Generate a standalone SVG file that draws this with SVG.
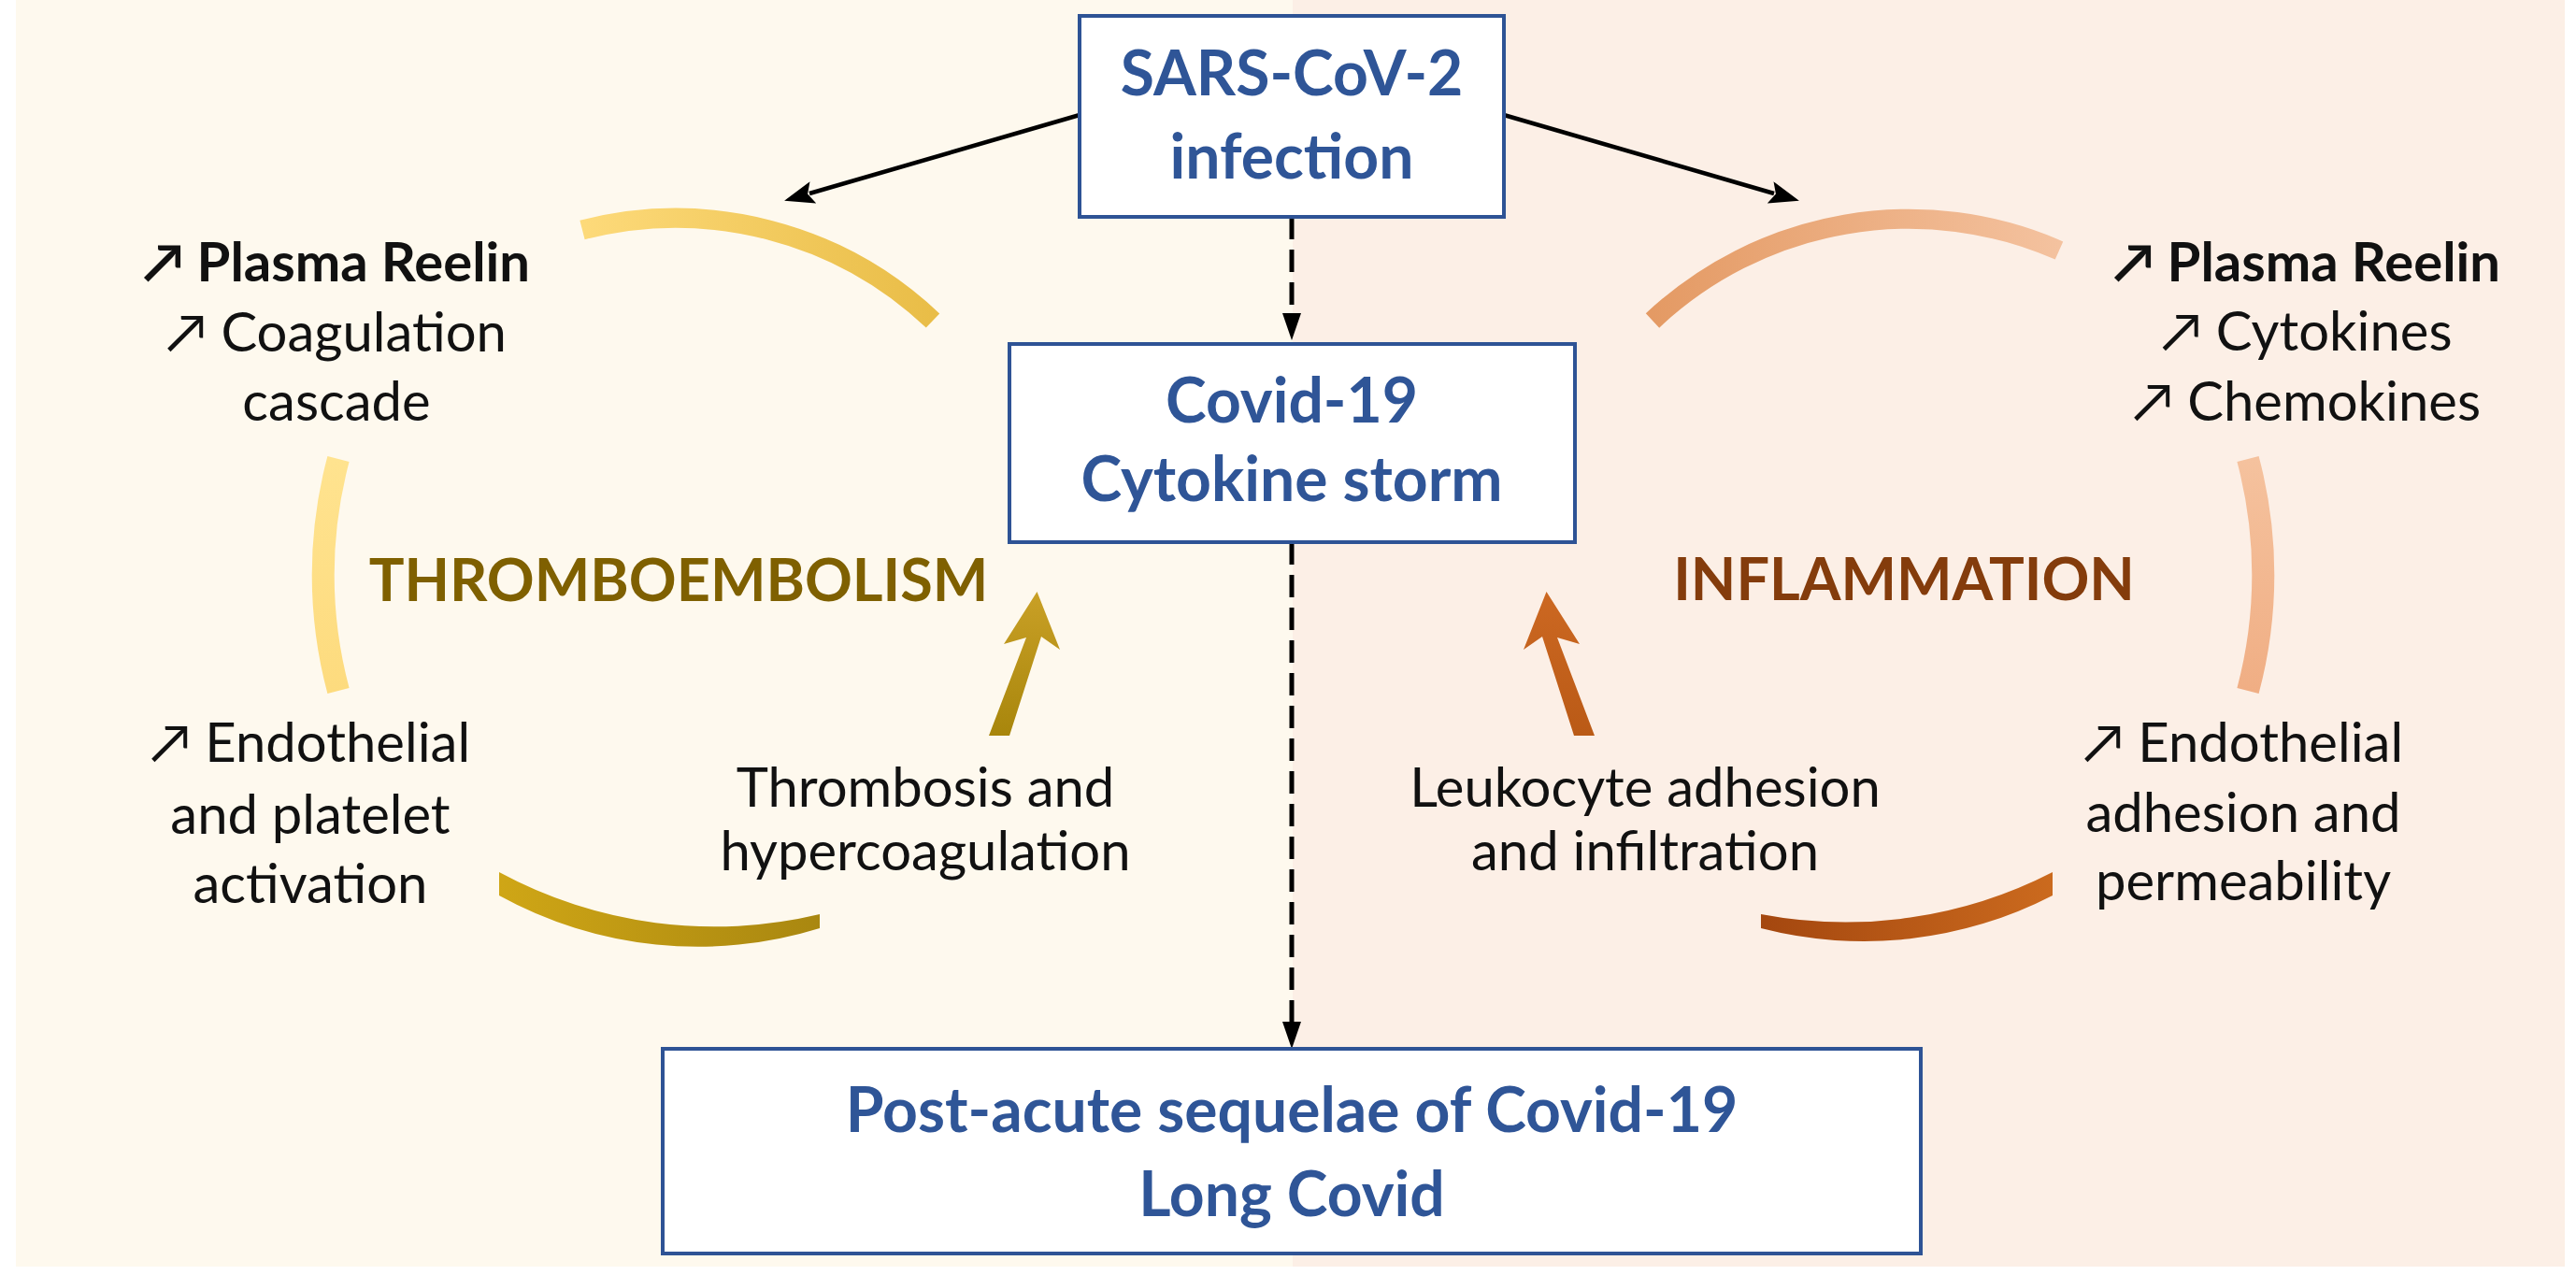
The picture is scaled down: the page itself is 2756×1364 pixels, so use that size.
<svg xmlns="http://www.w3.org/2000/svg" width="2756" height="1364" viewBox="0 0 2756 1364">
<style>
.box{fill:#ffffff;stroke:#2E5395;stroke-width:4}
.bt{font-family:Lato,"Open Sans","DejaVu Sans",sans-serif;font-weight:700;font-size:66px;fill:#2F5597;text-anchor:middle}
.tx{font-family:Lato,"DejaVu Sans",sans-serif;font-size:58px;fill:#111111;text-anchor:middle}
.b{font-weight:700}
.ttl{font-family:Lato,"DejaVu Sans",sans-serif;font-weight:700;font-size:63px;text-anchor:middle}
.sl{fill:none;stroke:#000;stroke-width:4.5}
.dl{fill:none;stroke:#000;stroke-width:5;stroke-dasharray:24 11}
</style>
<defs>
<marker id="ah" markerUnits="userSpaceOnUse" markerWidth="34" markerHeight="24" refX="4" refY="12" orient="auto"><path d="M0,0 L32,12 L0,24 L6,12 Z" fill="#000"/></marker>
<marker id="dh" markerUnits="userSpaceOnUse" markerWidth="32" markerHeight="22" refX="2" refY="10" orient="auto"><path d="M0,0 L29,10 L0,20 Z" fill="#000"/></marker>
<linearGradient id="gTL" gradientUnits="userSpaceOnUse" x1="623" y1="0" x2="998" y2="0"><stop offset="0" stop-color="#FDDA7A"/><stop offset="1" stop-color="#E9BD47"/></linearGradient>
<linearGradient id="gL" gradientUnits="userSpaceOnUse" x1="0" y1="491" x2="0" y2="739"><stop offset="0" stop-color="#FFE38F"/><stop offset="1" stop-color="#FDDB7E"/></linearGradient>
<linearGradient id="gBL" gradientUnits="userSpaceOnUse" x1="534" y1="0" x2="877" y2="0"><stop offset="0" stop-color="#CFA616"/><stop offset="1" stop-color="#A98710"/></linearGradient>
<linearGradient id="gAL" gradientUnits="userSpaceOnUse" x1="0" y1="787" x2="0" y2="633"><stop offset="0" stop-color="#A8860C"/><stop offset="1" stop-color="#C9A026"/></linearGradient>
<linearGradient id="gTR" gradientUnits="userSpaceOnUse" x1="1768" y1="0" x2="2203" y2="0"><stop offset="0" stop-color="#E49A64"/><stop offset="1" stop-color="#F4C29F"/></linearGradient>
<linearGradient id="gR" gradientUnits="userSpaceOnUse" x1="0" y1="491" x2="0" y2="739"><stop offset="0" stop-color="#F5C29E"/><stop offset="1" stop-color="#F0AE84"/></linearGradient>
<linearGradient id="gBR" gradientUnits="userSpaceOnUse" x1="1884" y1="0" x2="2196" y2="0"><stop offset="0" stop-color="#A4470F"/><stop offset="1" stop-color="#CB6A1E"/></linearGradient>
<linearGradient id="gAR" gradientUnits="userSpaceOnUse" x1="0" y1="787" x2="0" y2="633"><stop offset="0" stop-color="#BA5A16"/><stop offset="1" stop-color="#CC6822"/></linearGradient>
</defs>

<g id="background">
<rect x="17" y="0" width="1366" height="1355" fill="#FEF9EE"/>
<rect x="1383" y="0" width="1361" height="1355" fill="#FCEFE6"/>
</g>

<g id="cycle-thromboembolism">
<path d="M623,246 A400,400 0 0,1 998,343" fill="none" stroke="url(#gTL)" stroke-width="21"/>
<path d="M362,491 A480,480 0 0,0 362,739" fill="none" stroke="url(#gL)" stroke-width="24"/>
<path d="M534,933 L534,958 A440,440 0 0,0 877,993 L877,978 A484,484 0 0,1 534,933 Z" fill="url(#gBL)"/>
<path d="M1058,787 L1098,682 L1074,689 L1109.5,633 L1134,695 L1114,681 L1080,787 Z" fill="url(#gAL)"/>
<text class="ttl" x="726" y="643" fill="#7F6000">THROMBOEMBOLISM</text>
</g>

<g id="cycle-inflammation">
<path d="M1768,343 A400,400 0 0,1 2203,268" fill="none" stroke="url(#gTR)" stroke-width="21"/>
<path d="M2405,491 A480,480 0 0,1 2405,739" fill="none" stroke="url(#gR)" stroke-width="24"/>
<path d="M2196,933 L2196,958 A440,440 0 0,1 1884,993 L1884,978 A484,484 0 0,0 2196,933 Z" fill="url(#gBR)"/>
<path d="M1706,787 L1666,682 L1690,689 L1654.5,633 L1630,695 L1650,681 L1684,787 Z" fill="url(#gAR)"/>
<text class="ttl" x="2037" y="642" fill="#843C0C">INFLAMMATION</text>
</g>

<g id="connectors">
<path class="sl" d="M1155,123 L866,207" marker-end="url(#ah)"/>
<path class="sl" d="M1609,123 L1898,207" marker-end="url(#ah)"/>
<path class="dl" d="M1382,232 L1382,337" marker-end="url(#dh)"/>
<path class="dl" d="M1382,580 L1382,1095" marker-end="url(#dh)"/>
</g>

<g id="node-sars">
<rect class="box" x="1155" y="17" width="454" height="215"/>
<text class="bt" x="1382" y="102">SARS-CoV-2</text>
<text class="bt" x="1382" y="191">infection</text>
</g>

<g id="node-covid">
<rect class="box" x="1080" y="368" width="605" height="212"/>
<text class="bt" x="1382" y="452">Covid-19</text>
<text class="bt" x="1382" y="536">Cytokine storm</text>
</g>

<g id="node-longcovid">
<rect class="box" x="709" y="1122" width="1346" height="219"/>
<text class="bt" x="1382" y="1211">Post-acute sequelae of Covid-19</text>
<text class="bt" x="1382" y="1301">Long Covid</text>
</g>

<g id="label-left-top">
<text class="tx b" x="360" y="301">↗ Plasma Reelin</text>
<text class="tx" x="360" y="376">↗ Coagulation</text>
<text class="tx" x="360" y="450">cascade</text>
</g>
<g id="label-left-bottom">
<text class="tx" x="332" y="815">↗ Endothelial</text>
<text class="tx" x="332" y="892">and platelet</text>
<text class="tx" x="332" y="966">activation</text>
</g>
<g id="label-thrombosis">
<text class="tx" x="990" y="863">Thrombosis and</text>
<text class="tx" x="990" y="931">hypercoagulation</text>
</g>
<g id="label-leukocyte">
<text class="tx" x="1760" y="863">Leukocyte adhesion</text>
<text class="tx" x="1760" y="931">and infiltration</text>
</g>
<g id="label-right-top">
<text class="tx b" x="2468" y="301">↗ Plasma Reelin</text>
<text class="tx" x="2468" y="375">↗ Cytokines</text>
<text class="tx" x="2468" y="450">↗ Chemokines</text>
</g>
<g id="label-right-bottom">
<text class="tx" x="2400" y="815">↗ Endothelial</text>
<text class="tx" x="2400" y="890">adhesion and</text>
<text class="tx" x="2400" y="963">permeability</text>
</g>
</svg>
